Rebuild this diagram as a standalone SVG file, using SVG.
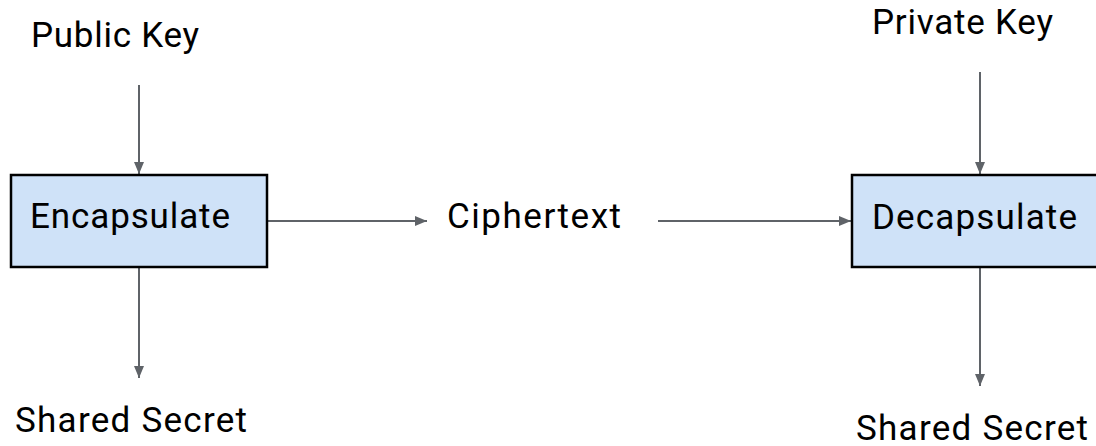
<svg xmlns="http://www.w3.org/2000/svg" width="1096" height="446" viewBox="0 0 1096 446">
<defs>
<style>
text{font-family:Roboto,"Liberation Sans",sans-serif;font-size:35px;fill:#000}
.box{fill:#cfe2f8;stroke:#000;stroke-width:2.5}
.conn{stroke:#5f6368;stroke-width:2;fill:none;marker-end:url(#ah)}
</style>
<marker id="ah" markerUnits="userSpaceOnUse" markerWidth="12" markerHeight="10" refX="12" refY="5" orient="auto">
<path d="M0,0 L12,5 L0,10 Z" fill="#5f6368"/>
</marker>
</defs>
<rect width="1096" height="446" fill="#fff"/>
<g id="connectors">
<line class="conn" x1="139" y1="85" x2="139" y2="174"/>
<line class="conn" x1="139" y1="268" x2="139" y2="378"/>
<line class="conn" x1="268" y1="221" x2="427" y2="221"/>
<line class="conn" x1="658" y1="221" x2="851" y2="221"/>
<line class="conn" x1="980" y1="72" x2="980" y2="174"/>
<line class="conn" x1="980" y1="268" x2="980" y2="386"/>
</g>
<g id="public-key"><text x="31" y="47" textLength="168">Public Key</text></g>
<g id="private-key"><text x="872" y="34" textLength="181">Private Key</text></g>
<g id="encapsulate"><rect class="box" x="11" y="175" width="256" height="92"/><text x="30" y="228" textLength="200">Encapsulate</text></g>
<g id="ciphertext"><text x="447" y="228" textLength="174">Ciphertext</text></g>
<g id="decapsulate"><rect class="box" x="852" y="175" width="256" height="92"/><text x="872" y="229" textLength="205">Decapsulate</text></g>
<g id="shared-secret-left"><text x="15" y="432" textLength="232">Shared Secret</text></g>
<g id="shared-secret-right"><text x="856" y="440" textLength="232">Shared Secret</text></g>
</svg>
